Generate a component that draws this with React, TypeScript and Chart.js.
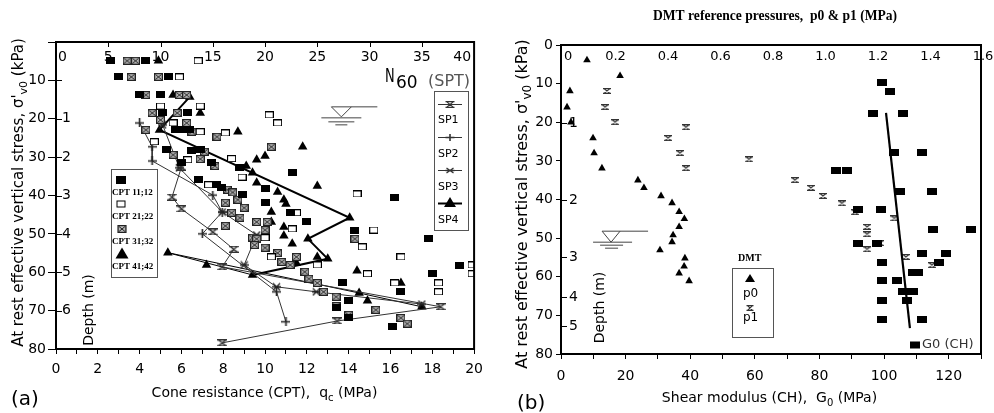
import React, { useEffect, useRef } from 'react';
import { Chart, registerables } from 'chart.js';

Chart.register(...registerables);

const FONT = '"DejaVu Sans", Verdana, sans-serif';
const SERIF = '"Liberation Serif", "Times New Roman", serif';

// ---------- Panel (a): CPT cone resistance qc (MPa) vs sigma'v0 (kPa) ----------
const CPT_11_12: [number, number][] = [
  [2.6, 4.9], [4.3, 4.9], [3.0, 9.1], [5.4, 9.1], [4.0, 13.8], [5.0, 13.8], [5.1, 18.5], [6.3, 18.5],
  [5.7, 22.9], [6.05, 22.9], [6.4, 22.9], [5.3, 28.1], [6.5, 28.4], [6.9, 28.1], [6.0, 31.3], [7.45, 31.3],
  [8.8, 32.8], [11.3, 33.9], [6.8, 35.9], [7.7, 37.2], [7.9, 37.8], [8.9, 39.8], [10.0, 38.3], [16.2, 40.6],
  [10.0, 41.9], [11.2, 44.3], [12.0, 46.9], [14.3, 49.2], [17.8, 51.3], [19.3, 58.3], [18.0, 60.4],
  [16.5, 65.1], [13.7, 62.8], [14.0, 67.4], [13.4, 69.3], [14.0, 71.9], [16.1, 74.2],
];
const CPT_21_22: [number, number][] = [
  [6.8, 4.9], [5.9, 9.1], [5.0, 16.7], [6.9, 16.7], [10.2, 19.0], [10.6, 21.1], [5.6, 21.1], [6.9, 23.4],
  [8.1, 23.7], [4.7, 26.0], [6.3, 30.7], [8.4, 30.4], [8.9, 35.2], [7.3, 37.2], [14.4, 39.6], [11.5, 44.5],
  [11.3, 48.7], [15.2, 49.0], [14.65, 53.4], [10.3, 56.0], [12.5, 58.1], [16.5, 56.0], [19.9, 58.1],
  [19.9, 60.4], [14.9, 60.4], [16.2, 62.8], [18.3, 62.8], [18.3, 65.1], [10.0, 51.0],
];
const CPT_31_32: [number, number][] = [
  [3.4, 4.9], [3.8, 4.9], [3.6, 9.1], [4.9, 9.1], [4.3, 13.8], [5.9, 13.8], [6.25, 13.8], [4.6, 18.5],
  [5.8, 18.5], [5.0, 20.3], [6.25, 21.1], [4.3, 22.9], [6.5, 23.4], [7.7, 24.7], [10.3, 27.3], [5.6, 29.4],
  [7.1, 28.6], [6.9, 30.5], [7.6, 32.3], [8.2, 38.5], [8.45, 39.2], [8.1, 41.9], [8.7, 41.1], [8.4, 44.5],
  [8.8, 45.8], [9.0, 43.2], [8.1, 47.9], [9.6, 46.9], [10.1, 46.9], [10.0, 49.0], [9.4, 51.0], [9.6, 51.3],
  [9.5, 52.9], [10.0, 53.6], [10.6, 55.0], [10.8, 57.3], [11.2, 58.1], [11.5, 56.0], [11.9, 59.9],
  [12.1, 61.7], [12.5, 62.8], [12.8, 65.1], [13.4, 66.4], [13.4, 68.8], [14.3, 51.3], [15.3, 69.8],
  [14.0, 71.1], [16.5, 71.9], [16.8, 73.4],
];
const CPT_41_42: [number, number][] = [
  [4.9, 4.9], [5.6, 13.8], [6.9, 18.5], [8.7, 23.4], [11.8, 27.3], [10.0, 29.7], [9.6, 30.7], [9.1, 32.3],
  [9.4, 34.1], [12.5, 37.5], [9.6, 36.7], [10.6, 39.1], [10.9, 41.1], [11.0, 42.2], [10.3, 44.3],
  [10.3, 46.9], [10.9, 48.2], [10.9, 50.5], [11.3, 52.6], [12.5, 56.0], [11.5, 57.6], [14.4, 59.6],
  [16.5, 62.8], [7.2, 58.1], [14.9, 67.4],
];

// SPT N60 (top axis) vs sigma'v0
const SP1: [number, number][] = [
  [12.0, 32.6], [11.1, 40.4], [12.0, 43.5], [15.0, 49.5], [17.0, 54.0], [15.9, 58.6], [36.8, 69.0],
  [26.9, 72.7], [15.9, 78.4],
];
const SP2: [number, number][] = [
  [8.0, 21.1], [9.2, 27.3], [9.2, 31.0], [15.0, 39.9], [15.9, 44.3], [14.0, 50.0], [21.1, 65.1], [22.0, 72.9],
];
const SP3: [number, number][] = [
  [10.2, 21.6], [11.8, 32.8], [15.9, 44.3], [19.2, 50.3], [18.0, 58.1], [21.1, 63.8], [24.9, 65.1], [35.0, 68.3],
];
const SP4: [number, number][] = [
  [12.8, 14.3], [9.9, 22.9], [28.1, 45.8], [24.1, 51.3], [26.0, 56.5], [18.8, 60.7], [10.7, 54.9],
  [29.0, 65.4], [35.0, 69.0],
];

const N60_TICKS = [0, 5, 10, 15, 20, 25, 30, 35, 40];
const LEFT_SIGMA_TICKS = [10, 20, 30, 40, 50, 60, 70];
const LEFT_DEPTH_LABELS = ['1', '2', '3', '4', '5', '6'];
const LEFT_DEPTH_SIGMA = [20, 30, 40, 50, 60, 70];
const CPT_LEGEND = ['CPT 11;12', 'CPT 21;22', 'CPT 31;32', 'CPT 41;42'];
const SPT_LEGEND = ['SP1', 'SP2', 'SP3', 'SP4'];
const WATER_LEFT = { n60: 27.3, sigma: 16.9 };

// ---------- Panel (b): G0 (MPa) and DMT p0/p1 (MPa) vs sigma'v0 ----------
const G0_CH: [number, number][] = [
  [99.4, 9.8], [101.9, 12.1], [96.6, 17.7], [105.9, 17.7], [103.1, 27.9], [111.8, 27.9], [85.1, 32.4],
  [88.5, 32.4], [105.0, 37.8], [114.9, 37.8], [92.0, 42.5], [99.1, 42.5], [115.2, 47.7], [126.9, 47.7],
  [92.0, 51.3], [97.8, 51.3], [111.8, 53.9], [119.2, 53.9], [117.0, 56.2], [99.4, 56.2], [109.0, 58.8],
  [110.6, 58.8], [99.4, 61.1], [104.0, 61.1], [105.9, 63.7], [109.0, 63.7], [99.4, 66.1], [107.1, 66.1],
  [99.4, 71.0], [111.8, 71.0],
];
const G0_TREND: [number, number][] = [[100.6, 17.6], [108.0, 73.3]];
const DMT_P0: [number, number][] = [
  [0.099, 3.9], [0.225, 8.0], [0.034, 11.9], [0.023, 16.1], [0.038, 20.0], [0.122, 24.1], [0.126, 28.0],
  [0.156, 31.9], [0.293, 35.0], [0.316, 37.0], [0.381, 39.1], [0.423, 40.9], [0.45, 43.2], [0.47, 45.0],
  [0.45, 47.1], [0.427, 49.2], [0.423, 51.0], [0.377, 53.1], [0.472, 55.2], [0.469, 57.3], [0.45, 59.1],
  [0.488, 61.1],
];
const DMT_P1: [number, number][] = [
  [0.175, 11.9], [0.168, 16.1], [0.206, 20.0], [0.476, 21.3], [0.408, 24.1], [0.453, 28.0], [0.476, 31.9],
  [0.716, 29.6], [0.891, 35.0], [0.952, 37.0], [0.998, 39.1], [1.07, 41.0], [1.12, 43.3], [1.27, 44.9],
  [1.166, 47.1], [1.166, 49.0], [1.215, 51.3], [1.166, 52.9], [1.314, 54.9], [1.413, 57.0],
];
const P_TICKS = [0, 0.2, 0.4, 0.6, 0.8, 1.0, 1.2, 1.4, 1.6];
const P_TICK_LABELS = ['0', '0.2', '0.4', '0.6', '0.8', '1.0', '1.2', '1.4', '1.6'];
const RIGHT_DEPTH_LABELS = ['1', '2', '3', '4', '5'];
const RIGHT_DEPTH_SIGMA = [20.3, 40.2, 54.9, 65.3, 72.8];
const WATER_RIGHT = { g0: 15.5, sigma: 48.2 };

// ---------- helpers ----------
type Kind = 'fill' | 'open' | 'xbox' | 'hour' | 'plus' | 'star' | 'tri';

function drawMarker(ctx: CanvasRenderingContext2D, kind: Kind, cx: number, cy: number, w: number, h: number, color = '#000') {
  ctx.save();
  const l = cx - w / 2;
  const t = cy - h / 2;
  ctx.lineWidth = 1;
  ctx.strokeStyle = color;
  ctx.fillStyle = color;
  ctx.beginPath();
  switch (kind) {
    case 'fill':
      ctx.fillRect(l, t, w, h);
      break;
    case 'open':
      ctx.fillStyle = '#fff';
      ctx.fillRect(l, t, w, h);
      ctx.strokeRect(l + 0.5, t + 0.5, w - 1, h - 1);
      break;
    case 'xbox':
      ctx.fillStyle = '#b8b8b8';
      ctx.fillRect(l, t, w, h);
      ctx.lineWidth = 1.2;
      ctx.strokeRect(l + 0.6, t + 0.6, w - 1.2, h - 1.2);
      ctx.lineWidth = 1;
      ctx.moveTo(l + 1.5, t + 1.5); ctx.lineTo(l + w - 1.5, t + h - 1.5);
      ctx.moveTo(l + w - 1.5, t + 1.5); ctx.lineTo(l + 1.5, t + h - 1.5);
      ctx.stroke();
      break;
    case 'hour':
      ctx.lineWidth = 1.2;
      ctx.moveTo(l, t + 0.6); ctx.lineTo(l + w, t + 0.6);
      ctx.moveTo(l, t + h - 0.6); ctx.lineTo(l + w, t + h - 0.6);
      ctx.moveTo(l + 1, t + 0.6); ctx.lineTo(l + w - 1, t + h - 0.6);
      ctx.moveTo(l + w - 1, t + 0.6); ctx.lineTo(l + 1, t + h - 0.6);
      ctx.stroke();
      break;
    case 'plus':
      ctx.lineWidth = 1.6;
      ctx.moveTo(l, cy); ctx.lineTo(l + w, cy);
      ctx.moveTo(cx, t); ctx.lineTo(cx, t + h);
      ctx.stroke();
      break;
    case 'star':
      ctx.lineWidth = 1.3;
      ctx.moveTo(l, cy); ctx.lineTo(l + w, cy);
      ctx.moveTo(l + 1, t + 1); ctx.lineTo(l + w - 1, t + h - 1);
      ctx.moveTo(l + w - 1, t + 1); ctx.lineTo(l + 1, t + h - 1);
      ctx.stroke();
      break;
    case 'tri':
      ctx.moveTo(cx, t); ctx.lineTo(l + w, t + h); ctx.lineTo(l, t + h); ctx.closePath();
      ctx.fill();
      break;
  }
  ctx.restore();
}

function markerCanvas(kind: Kind, w: number, h: number, color = '#000'): HTMLCanvasElement {
  const c = document.createElement('canvas');
  c.width = w; c.height = h;
  const cx = c.getContext('2d')!;
  drawMarker(cx, kind, w / 2, h / 2, w, h, color);
  return c;
}

type Part = { t: string; sub?: boolean };
function drawRich(ctx: CanvasRenderingContext2D, parts: Part[], x: number, y: number, size: number,
  opts: { rotate?: boolean; align?: 'center' | 'left'; family?: string; weight?: string; color?: string } = {}) {
  const fam = opts.family || FONT;
  const weight = opts.weight ? `${opts.weight} ` : '';
  ctx.save();
  ctx.translate(x, y);
  if (opts.rotate) ctx.rotate(-Math.PI / 2);
  ctx.textBaseline = 'alphabetic';
  ctx.textAlign = 'left';
  ctx.fillStyle = opts.color || '#000';
  const fontOf = (p: Part) => `${weight}${p.sub ? Math.round(size * 0.72) : size}px ${fam}`;
  let total = 0;
  const ws = parts.map((p) => { ctx.font = fontOf(p); const w = ctx.measureText(p.t).width; total += w; return w; });
  let cx = opts.align === 'left' ? 0 : -total / 2;
  parts.forEach((p, i) => { ctx.font = fontOf(p); ctx.fillText(p.t, cx, p.sub ? size * 0.28 : 0); cx += ws[i]; });
  ctx.restore();
}

const pts = (arr: [number, number][]) => arr.map(([x, y]) => ({ x, y }));

function line(ctx: CanvasRenderingContext2D, x1: number, y1: number, x2: number, y2: number) {
  ctx.beginPath(); ctx.moveTo(x1, y1); ctx.lineTo(x2, y2); ctx.stroke();
}

const leftDecor = {
  id: 'leftDecor',
  afterDraw(chart: any) {
    const { ctx, chartArea: ca, scales } = chart;
    const ys = scales.y, x2 = scales.x2;
    ctx.save();
    ctx.strokeStyle = '#000';
    ctx.lineWidth = 2;
    ctx.strokeRect(ca.left, ca.top, ca.right - ca.left, ca.bottom - ca.top);
    ctx.lineWidth = 1;
    LEFT_SIGMA_TICKS.forEach((s) => { const y = Math.round(ys.getPixelForValue(s)) + 0.5; line(ctx, ca.left, y, ca.left + 6, y); });
    N60_TICKS.forEach((n) => { const x = Math.round(x2.getPixelForValue(n)) + 0.5; line(ctx, x, ca.top, x, ca.top + 5); });
    // top N60 labels
    ctx.fillStyle = '#000';
    ctx.font = `14px ${FONT}`;
    ctx.textBaseline = 'middle';
    N60_TICKS.forEach((n, i) => {
      const x = x2.getPixelForValue(n);
      if (i === 0) { ctx.textAlign = 'left'; ctx.fillText(String(n), x + 2, 57); }
      else if (i === N60_TICKS.length - 1) { ctx.textAlign = 'right'; ctx.fillText(String(n), x - 3, 57); }
      else { ctx.textAlign = 'center'; ctx.fillText(String(n), x, 57); }
    });
    // depth labels
    ctx.textAlign = 'left';
    LEFT_DEPTH_LABELS.forEach((d, i) => ctx.fillText(d, ca.left + 6, ys.getPixelForValue(LEFT_DEPTH_SIGMA[i])));
    drawRich(ctx, [{ t: 'Depth (m)' }], 93, 310, 14, { rotate: true });
    // water table
    const wx = x2.getPixelForValue(WATER_LEFT.n60), wy = ys.getPixelForValue(WATER_LEFT.sigma);
    ctx.strokeStyle = '#444';
    line(ctx, wx - 10, wy, wx + 36, wy);
    ctx.beginPath(); ctx.moveTo(wx - 10, wy); ctx.lineTo(wx, wy + 10); ctx.lineTo(wx + 10, wy); ctx.stroke();
    line(ctx, wx - 20, wy + 11, wx + 20, wy + 11);
    line(ctx, wx - 13, wy + 15, wx + 13, wy + 15);
    line(ctx, wx - 6, wy + 18, wx + 6, wy + 18);
    // N60 (SPT)
    ctx.fillStyle = '#000';
    ctx.save(); ctx.translate(385, 82); ctx.scale(0.68, 1); ctx.font = `19px ${FONT}`; ctx.textBaseline = 'alphabetic'; ctx.fillText('N', 0, 0); ctx.restore();
    ctx.textBaseline = 'alphabetic';
    ctx.font = `17px ${FONT}`; ctx.fillText('60', 396, 88);
    ctx.fillStyle = '#555'; ctx.font = `16px ${FONT}`; ctx.fillText('(SPT)', 428, 86);
    // SPT legend
    ctx.fillStyle = '#fff'; ctx.fillRect(434, 91, 34, 139);
    ctx.strokeStyle = '#555'; ctx.lineWidth = 1; ctx.strokeRect(434.5, 91.5, 34, 139);
    const spKinds: Kind[] = ['hour', 'plus', 'star', 'tri'];
    const lineYs = [104, 137, 170, 203];
    const labYs = [123, 157, 190, 223];
    SPT_LEGEND.forEach((lab, i) => {
      ctx.strokeStyle = i === 3 ? '#000' : '#333';
      ctx.lineWidth = i === 3 ? 2 : 1;
      line(ctx, 438, lineYs[i] + 0.5, 462, lineYs[i] + 0.5);
      if (i === 3) drawMarker(ctx, 'tri', 450, lineYs[i] - 1, 12, 10);
      else drawMarker(ctx, spKinds[i], 450, lineYs[i] + 0.5, 9, 7, '#333');
      ctx.fillStyle = '#000'; ctx.font = `11px ${FONT}`; ctx.textAlign = 'left';
      ctx.fillText(lab, 438, labYs[i]);
    });
    // CPT legend
    ctx.fillStyle = '#fff'; ctx.fillRect(111, 169, 46, 108);
    ctx.strokeStyle = '#555'; ctx.lineWidth = 1; ctx.strokeRect(111.5, 169.5, 46, 108);
    drawMarker(ctx, 'fill', 121, 180, 10, 8);
    drawMarker(ctx, 'open', 121, 204, 9, 7);
    drawMarker(ctx, 'xbox', 122, 229, 9, 8, '#222');
    drawMarker(ctx, 'tri', 122, 253, 13, 11);
    ctx.fillStyle = '#000'; ctx.font = `bold 9px ${SERIF}`;
    [195, 219, 244, 269].forEach((y, i) => ctx.fillText(CPT_LEGEND[i], 112, y));
    // titles
    drawRich(ctx, [{ t: "At rest effective vertical stress, σ'" }, { t: 'v0', sub: true }, { t: ' (kPa)' }], 22.5, 192.5, 15, { rotate: true });
    drawRich(ctx, [{ t: 'Cone resistance (CPT),  q' }, { t: 'c', sub: true }, { t: ' (MPa)' }], 264.5, 397, 14);
    drawRich(ctx, [{ t: '(a)' }], 11, 405, 20, { align: 'left' });
    ctx.restore();
  },
};

const rightDecor = {
  id: 'rightDecor',
  afterDraw(chart: any) {
    const { ctx, chartArea: ca, scales } = chart;
    const ys = scales.y, x2 = scales.x2, xs = scales.x;
    ctx.save();
    ctx.strokeStyle = '#000';
    ctx.lineWidth = 2;
    ctx.strokeRect(ca.left, ca.top, ca.right - ca.left, ca.bottom - ca.top);
    ctx.lineWidth = 1;
    RIGHT_DEPTH_SIGMA.forEach((s) => { const y = Math.round(ys.getPixelForValue(s)) + 0.5; line(ctx, ca.left, y, ca.left + 6, y); });
    ctx.fillStyle = '#000';
    ctx.font = `14px ${FONT}`;
    ctx.textBaseline = 'middle';
    ctx.textAlign = 'left';
    RIGHT_DEPTH_LABELS.forEach((d, i) => ctx.fillText(d, ca.left + 8, ys.getPixelForValue(RIGHT_DEPTH_SIGMA[i])));
    ctx.font = `13px ${FONT}`;
    P_TICKS.forEach((p, i) => {
      const x = x2.getPixelForValue(p);
      if (i === 0) { ctx.textAlign = 'left'; ctx.fillText(P_TICK_LABELS[i], x + 3, 57); }
      else { ctx.textAlign = 'center'; ctx.fillText(P_TICK_LABELS[i], x + 2, 57); }
    });
    drawRich(ctx, [{ t: 'Depth (m)' }], 114, 307.5, 14, { rotate: true });
    // water table
    const wx = xs.getPixelForValue(WATER_RIGHT.g0), wy = ys.getPixelForValue(WATER_RIGHT.sigma);
    ctx.strokeStyle = '#444';
    line(ctx, wx - 9, wy, wx + 37, wy);
    ctx.beginPath(); ctx.moveTo(wx - 9, wy); ctx.lineTo(wx, wy + 11); ctx.lineTo(wx + 9, wy); ctx.stroke();
    line(ctx, wx - 18, wy + 11, wx + 21, wy + 11);
    line(ctx, wx - 11, wy + 14, wx + 12, wy + 14);
    line(ctx, wx - 6, wy + 17, wx + 7, wy + 17);
    // DMT legend
    ctx.fillStyle = '#000'; ctx.textBaseline = 'alphabetic'; ctx.textAlign = 'left';
    ctx.font = `bold 10px ${SERIF}`; ctx.fillText('DMT', 248, 261);
    ctx.fillStyle = '#fff'; ctx.fillRect(242, 268, 41, 69);
    ctx.strokeStyle = '#555'; ctx.lineWidth = 1; ctx.strokeRect(242.5, 268.5, 41, 69);
    drawMarker(ctx, 'tri', 260, 278, 10, 8);
    drawMarker(ctx, 'hour', 260, 308, 7, 6, '#333');
    ctx.fillStyle = '#000'; ctx.font = `12px ${FONT}`;
    ctx.fillText('p0', 253, 297);
    ctx.fillText('p1', 253, 321);
    // G0 legend
    drawMarker(ctx, 'fill', 425, 345, 10, 7);
    ctx.fillStyle = '#333'; ctx.font = `13px ${FONT}`; ctx.textBaseline = 'middle';
    ctx.fillText('G0 (CH)', 432, 345);
    // titles
    ctx.save();
    ctx.translate(163, 20); ctx.scale(0.97, 1);
    drawRich(ctx, [{ t: 'DMT reference pressures,  p0 & p1 (MPa)' }], 0, 0, 14, { align: 'left', family: SERIF, weight: 'bold' });
    ctx.restore();
    drawRich(ctx, [{ t: "At rest effective vertical stress, σ'" }, { t: 'v0', sub: true }, { t: ' (kPa)' }], 37, 204, 16, { rotate: true });
    drawRich(ctx, [{ t: 'Shear modulus (CH),  G' }, { t: '0', sub: true }, { t: ' (MPa)' }], 279.5, 402, 14);
    drawRich(ctx, [{ t: '(b)' }], 27, 409, 20, { align: 'left' });
    ctx.restore();
  },
};

const tickFont = { family: FONT, size: 14 };

export default function App() {
  const leftRef = useRef<HTMLCanvasElement>(null);
  const rightRef = useRef<HTMLCanvasElement>(null);

  useEffect(() => {
    const mFill = markerCanvas('fill', 9, 7);
    const mOpen = markerCanvas('open', 9, 7);
    const mX = markerCanvas('xbox', 9, 8, '#222');
    const mHour = markerCanvas('hour', 10, 7, '#333');
    const mPlus = markerCanvas('plus', 9, 9, '#222');
    const mStar = markerCanvas('star', 9, 9, '#222');
    const mG0 = markerCanvas('fill', 10, 7);
    const mP1 = markerCanvas('hour', 8, 6, '#333');

    const left = new Chart(leftRef.current!, {
      type: 'scatter',
      data: {
        datasets: [
          { label: 'CPT 11;12', data: pts(CPT_11_12), pointStyle: mFill, pointRadius: 4, showLine: false },
          { label: 'CPT 21;22', data: pts(CPT_21_22), pointStyle: mOpen, pointRadius: 4, showLine: false },
          { label: 'CPT 31;32', data: pts(CPT_31_32), pointStyle: mX, pointRadius: 4, showLine: false },
          { label: 'CPT 41;42', data: pts(CPT_41_42), pointStyle: 'triangle', pointRadius: 5.5, backgroundColor: '#000', borderColor: '#000', borderWidth: 0, showLine: false },
          { label: 'SP1', data: pts(SP1), xAxisID: 'x2', showLine: true, borderColor: '#333', borderWidth: 1, pointStyle: mHour, pointRadius: 4, tension: 0 },
          { label: 'SP2', data: pts(SP2), xAxisID: 'x2', showLine: true, borderColor: '#333', borderWidth: 1, pointStyle: mPlus, pointRadius: 4, tension: 0 },
          { label: 'SP3', data: pts(SP3), xAxisID: 'x2', showLine: true, borderColor: '#333', borderWidth: 1, pointStyle: mStar, pointRadius: 4, tension: 0 },
          {
            label: 'SP4', data: pts(SP4), xAxisID: 'x2', showLine: true, borderColor: '#000', borderWidth: 1.8,
            pointStyle: 'triangle', pointRadius: 5.5, backgroundColor: '#000', pointBorderWidth: 0, tension: 0,
            segment: { borderWidth: (c: any) => (c.p0DataIndex < 5 ? 2 : 1) },
          } as any,
        ],
      },
      options: {
        animation: false,
        responsive: false,
        events: [],
        layout: { padding: { top: 42, right: 15, left: 0, bottom: 0 } },
        plugins: { legend: { display: false }, tooltip: { enabled: false } },
        scales: {
          x: {
            type: 'linear', position: 'bottom', min: 0, max: 20,
            afterFit: (s: any) => { s.height = 64; },
            ticks: { stepSize: 1, maxTicksLimit: 100, autoSkip: false, maxRotation: 0, color: '#000', font: tickFont, padding: 7,
              callback: (v: any) => (Number(v) % 2 === 0 ? String(v) : '') },
            grid: { drawOnChartArea: false, drawTicks: true, tickLength: 5, color: '#000', lineWidth: 1 },
            border: { display: false },
          },
          x2: { type: 'linear', position: 'top', min: 0, max: 40, display: false },
          y: {
            type: 'linear', reverse: true, min: 0, max: 80,
            afterFit: (s: any) => { s.width = 56; },
            ticks: { stepSize: 10, color: '#000', font: tickFont, padding: 2, callback: (v: any) => (Number(v) === 0 ? '' : String(v)) },
            grid: { drawOnChartArea: false, drawTicks: true, tickLength: 8, color: '#000', lineWidth: 1 },
            border: { display: false },
          },
        },
      } as any,
      plugins: [leftDecor],
    });

    const right = new Chart(rightRef.current!, {
      type: 'scatter',
      data: {
        datasets: [
          { label: 'G0 (CH)', data: pts(G0_CH), pointStyle: mG0, pointRadius: 4, showLine: false },
          { label: 'trend', data: pts(G0_TREND), showLine: true, borderColor: '#000', borderWidth: 2.2, pointRadius: 0, tension: 0 },
          { label: 'p0', data: pts(DMT_P0), xAxisID: 'x2', pointStyle: 'triangle', pointRadius: 4.4, backgroundColor: '#000', borderColor: '#000', borderWidth: 0, showLine: false },
          { label: 'p1', data: pts(DMT_P1), xAxisID: 'x2', pointStyle: mP1, pointRadius: 4, showLine: false },
        ],
      },
      options: {
        animation: false,
        responsive: false,
        events: [],
        layout: { padding: { top: 45, right: 13, left: 0, bottom: 0 } },
        plugins: { legend: { display: false }, tooltip: { enabled: false } },
        scales: {
          x: {
            type: 'linear', position: 'bottom', min: 0, max: 130,
            afterFit: (s: any) => { s.height = 59; },
            ticks: { stepSize: 10, maxTicksLimit: 100, autoSkip: false, maxRotation: 0, color: '#000', font: tickFont, padding: 9,
              callback: (v: any) => (Number(v) % 20 === 0 ? String(v) : '') },
            grid: { drawOnChartArea: false, drawTicks: true, tickLength: 5, color: '#000', lineWidth: 1 },
            border: { display: false },
          },
          x2: { type: 'linear', position: 'top', min: 0, max: 1.6, display: false },
          y: {
            type: 'linear', reverse: true, min: 0, max: 80,
            afterFit: (s: any) => { s.width = 71; },
            ticks: { stepSize: 10, color: '#000', font: tickFont, padding: 3 },
            grid: { drawOnChartArea: false, drawTicks: true, tickLength: 5, color: '#000', lineWidth: 1 },
            border: { display: false },
          },
        },
      } as any,
      plugins: [rightDecor],
    });

    return () => { left.destroy(); right.destroy(); };
  }, []);

  return (
    <div style={{ position: 'absolute', left: 0, top: 0, width: 994, height: 413, background: '#fff', overflow: 'hidden' }}>
      <canvas ref={leftRef} width={490} height={413} style={{ position: 'absolute', left: 0, top: 0, width: 490, height: 413 }} />
      <canvas ref={rightRef} width={504} height={413} style={{ position: 'absolute', left: 490, top: 0, width: 504, height: 413 }} />
    </div>
  );
}
